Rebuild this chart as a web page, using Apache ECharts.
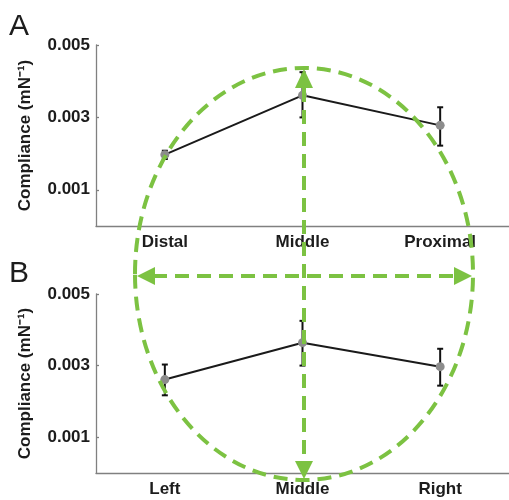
<!DOCTYPE html>
<html>
<head>
<meta charset="utf-8">
<title>Compliance</title>
<script src="https://cdn.jsdelivr.net/npm/echarts@6/dist/echarts.min.js"></script>
<style>
html, body { margin: 0; padding: 0; background: #fff; }
#main { width: 509px; height: 500px; }
</style>
</head>
<body>
<div id="main"></div>
<script>
// panel A: position along the body
var catA = ['Distal', 'Middle', 'Proximal'];
var meanA = [0.00197, 0.00361, 0.00278];
var lowA = [0.00185, 0.00300, 0.00222];
var highA = [0.00208, 0.00425, 0.00328];

// panel B: side to side
var catB = ['Left', 'Middle', 'Right'];
var meanB = [0.00261, 0.00364, 0.00297];
var lowB = [0.00217, 0.00300, 0.00244];
var highB = [0.00303, 0.00425, 0.00347];

var yTicks = [0.001, 0.003, 0.005];

var font = 'Liberation Sans, Arial, sans-serif';
var green = '#7cc242';
var axisGray = '#808080';
var txt = '#1c1c1c';

function xAxisOf(cats, gi) {
	return {
		type: 'category', gridIndex: gi, data: cats, boundaryGap: true,
		axisLine: { lineStyle: { color: axisGray, width: 1.3 } },
		axisTick: { inside: true, length: 4, alignWithLabel: true, lineStyle: { color: axisGray, width: 1.3 } },
		axisLabel: { color: txt, fontFamily: font, fontWeight: 'bold', fontSize: 17, margin: 8 }
	};
}

function yAxisOf(gi) {
	return {
		type: 'value', gridIndex: gi, min: 0, max: 0.005,
		name: 'Compliance (mN\u207B\u00B9)', nameLocation: 'middle', nameGap: 62,
		nameTextStyle: { color: txt, fontFamily: font, fontWeight: 'bold', fontSize: 17 },
		axisLine: { show: true, lineStyle: { color: axisGray, width: 1.3 } },
		axisTick: { show: true, inside: true, length: 3, customValues: yTicks, lineStyle: { color: axisGray, width: 1.3 } },
		axisLabel: {
			color: txt, fontFamily: font, fontWeight: 'bold', fontSize: 17, margin: 6,
			customValues: yTicks,
			formatter: function (v) { return v.toFixed(3); }
		},
		splitLine: { show: false }
	};
}

function errBars(cats, low, high, gi) {
	return {
		type: 'custom', xAxisIndex: gi, yAxisIndex: gi, z: 2,
		data: cats.map(function (c, i) { return [i, low[i], high[i]]; }),
		encode: { x: 0, y: [1, 2] },
		renderItem: function (params, api) {
			var lo = api.coord([api.value(0), api.value(1)]);
			var hi = api.coord([api.value(0), api.value(2)]);
			var st = { stroke: '#111', lineWidth: 2 };
			return {
				type: 'group',
				children: [
					{ type: 'line', shape: { x1: lo[0], y1: lo[1], x2: hi[0], y2: hi[1] }, style: st },
					{ type: 'line', shape: { x1: lo[0] - 3, y1: lo[1], x2: lo[0] + 3, y2: lo[1] }, style: st },
					{ type: 'line', shape: { x1: hi[0] - 3, y1: hi[1], x2: hi[0] + 3, y2: hi[1] }, style: st }
				]
			};
		}
	};
}

function meanLine(vals, gi) {
	return {
		type: 'line', xAxisIndex: gi, yAxisIndex: gi, data: vals, z: 3,
		symbol: 'circle', symbolSize: 9,
		lineStyle: { color: '#1a1a1a', width: 2 },
		itemStyle: { color: '#8c8c8c' }
	};
}

var dash = { stroke: green, lineWidth: 4, lineDash: [14, 8], fill: null };

var option = {
	animation: false,
	grid: [
		{ left: 96, top: 45, right: 0, height: 181 },
		{ left: 96, top: 294, right: 0, height: 179 }
	],
	xAxis: [xAxisOf(catA, 0), xAxisOf(catB, 1)],
	yAxis: [yAxisOf(0), yAxisOf(1)],
	series: [
		errBars(catA, lowA, highA, 0), meanLine(meanA, 0),
		errBars(catB, lowB, highB, 1), meanLine(meanB, 1)
	],
	graphic: [
		{ type: 'text', left: 9, top: 12, style: { text: 'A', font: '30px ' + font, fill: txt } },
		{ type: 'text', left: 9, top: 259, style: { text: 'B', font: '30px ' + font, fill: txt } },
		// green overlay: ellipse and the two axes arrows
		{ type: 'ellipse', z: 100, shape: { cx: 304, cy: 274, rx: 169, ry: 206 }, style: dash },
		{ type: 'line', z: 100, shape: { x1: 304, y1: 88, x2: 304, y2: 462 }, style: dash },
		{ type: 'line', z: 100, shape: { x1: 153, y1: 276, x2: 455, y2: 276 }, style: dash },
		{ type: 'polygon', z: 101, shape: { points: [[304, 69], [295, 88], [313, 88]] }, style: { fill: green } },
		{ type: 'polygon', z: 101, shape: { points: [[304, 479], [295, 461], [313, 461]] }, style: { fill: green } },
		{ type: 'polygon', z: 101, shape: { points: [[137, 276], [155, 267], [155, 285]] }, style: { fill: green } },
		{ type: 'polygon', z: 101, shape: { points: [[472, 276], [454, 267], [454, 285]] }, style: { fill: green } }
	]
};

var chart = echarts.init(document.getElementById('main'));
chart.setOption(option);
</script>
</body>
</html>
